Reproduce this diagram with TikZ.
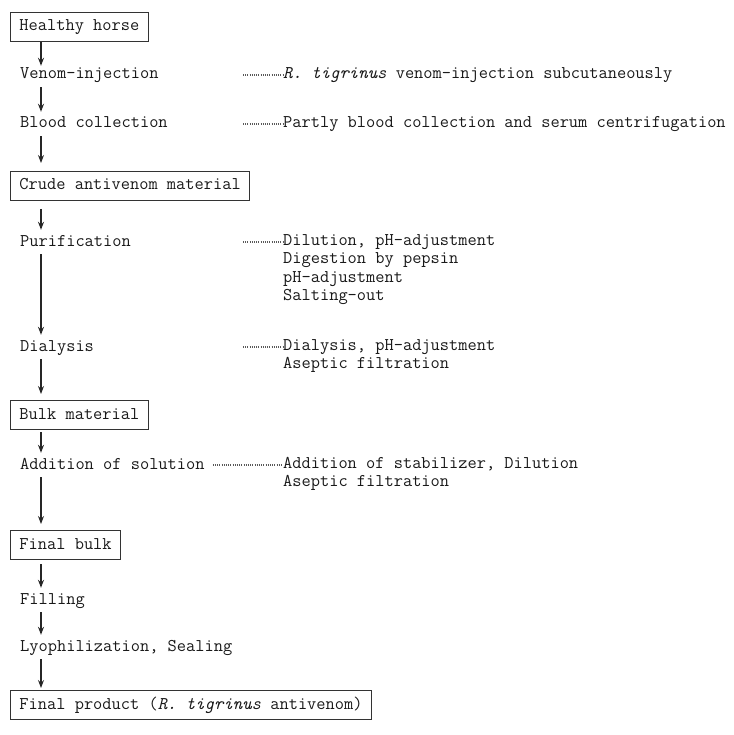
\documentclass[tikz,border=0pt]{standalone}
\usepackage{tikz}
\usetikzlibrary{arrows.meta,positioning,calc}

\tikzset{
  stage/.style={anchor=west, inner xsep=0pt, inner ysep=0pt, text height=12pt, text depth=4pt,
    font=\fontsize{17.9}{18}\ttfamily, text=black!90},
  stagebox/.style={stage, draw=black!80, line width=1pt, inner xsep=9pt, minimum height=29pt},
  detail/.style={anchor=north west, inner sep=0pt, align=left,
    font=\fontsize{17.9}{18.5}\ttfamily, text=black!90},
  flow/.style={-{Stealth[length=8pt,width=6pt]}, line width=1.2pt, black!85},
  leader/.style={black!65, line width=1.2pt, dash pattern=on 1pt off 1.2pt},
}

\begin{document}
\begin{tikzpicture}[x=1pt,y=-1pt]
    \useasboundingbox (0,0) rectangle (733,735);

    % main column
    \coordinate (col) at (41,0);
    \node[stagebox] (horse) at (10,27) {Healthy horse};
    \node[stage] (venom) at (20,75) {Venom-injection};
    \node[stage] (blood) at (20,124) {Blood collection};
    \node[stagebox] (crude) at (10,186) {Crude antivenom material};
    \node[stage] (purif) at (20,242) {Purification};
    \node[stage] (dialysis) at (20,347) {Dialysis};
    \node[stagebox] (bulk) at (10,415) {Bulk material};
    \node[stage] (addition) at (20,465) {Addition of solution};
    \node[stagebox] (finalbulk) at (10,545) {Final bulk};
    \node[stage] (filling) at (20,600) {Filling};
    \node[stage] (lyo) at (20,647) {Lyophilization, Sealing};
    \node[stagebox] (product) at (10,705) {Final product ({\itshape R. tigrinus} antivenom)};

    % details
    \node[detail] (venomtxt) at (283,67) {{\itshape R. tigrinus} venom-injection subcutaneously};
    \node[detail] (bloodtxt) at (283,116) {Partly blood collection and serum centrifugation};
    \node[detail] (puriftxt) at (283,234) {Dilution, pH-adjustment\\Digestion by pepsin\\pH-adjustment\\Salting-out};
    \node[detail] (dialtxt) at (283,339) {Dialysis, pH-adjustment\\Aseptic filtration};
    \node[detail] (addtxt) at (283,457) {Addition of stabilizer, Dilution\\Aseptic filtration};

    % leaders
    \draw[leader] (243,75) -- (venomtxt.west |- 0,75);
    \draw[leader] (243,124) -- (bloodtxt.west |- 0,124);
    \draw[leader] (243,242) -- (puriftxt.west |- 0,242);
    \draw[leader] (243,347) -- (dialtxt.west |- 0,347);
    \draw[leader] ($(addition.east)+(8,0)$) -- (addtxt.west |- addition.east);

    % arrows
    \draw[flow, shorten >=1pt] (horse.south -| col) -- (venom.north -| col);
    \draw[flow, shorten <=4pt, shorten >=4pt] (venom.south -| col) -- (blood.north -| col);
    \draw[flow, shorten <=4pt, shorten >=8pt] (blood.south -| col) -- (crude.north -| col);
    \draw[flow, shorten <=8pt, shorten >=4pt] (crude.south -| col) -- (purif.north -| col);
    \draw[flow, shorten <=4pt, shorten >=4pt] (purif.south -| col) -- (dialysis.north -| col);
    \draw[flow, shorten <=4pt, shorten >=6pt] (dialysis.south -| col) -- (bulk.north -| col);
    \draw[flow, shorten <=2pt, shorten >=4pt] (bulk.south -| col) -- (addition.north -| col);
    \draw[flow, shorten <=4pt, shorten >=6pt] (addition.south -| col) -- (finalbulk.north -| col);
    \draw[flow, shorten <=4pt, shorten >=4pt] (finalbulk.south -| col) -- (filling.north -| col);
    \draw[flow, shorten <=4pt, shorten >=4pt] (filling.south -| col) -- (lyo.north -| col);
    \draw[flow, shorten <=4pt, shorten >=2pt] (lyo.south -| col) -- (product.north -| col);
\end{tikzpicture}
\end{document}
